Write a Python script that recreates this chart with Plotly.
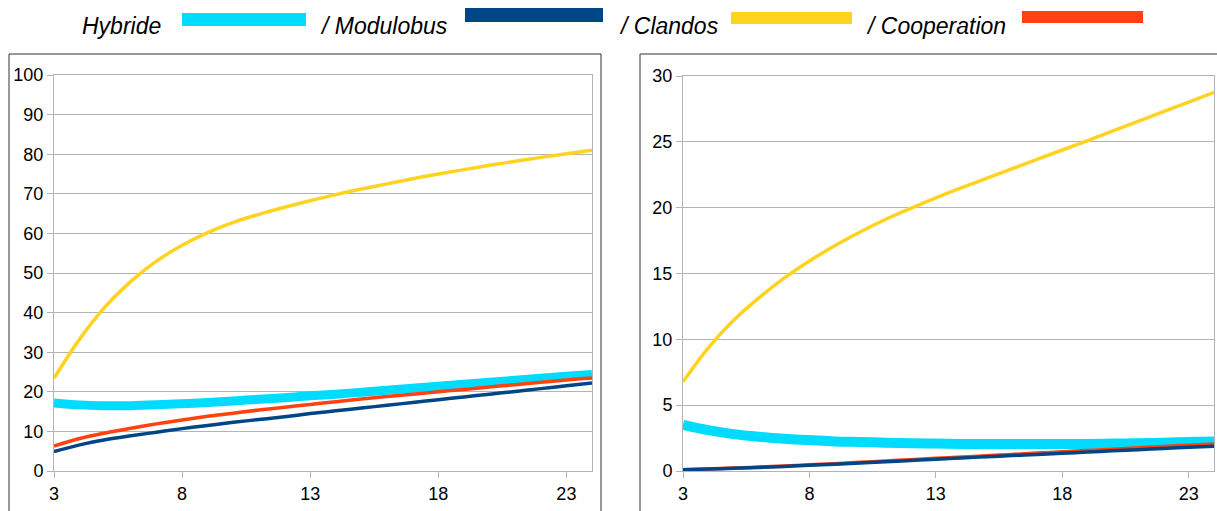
import plotly.graph_objects as go

W, H = 1217, 511

x = list(range(3, 25))

# Left panel
left_hybride = [17.2, 16.7, 16.5, 16.5, 16.7, 17.0, 17.3, 17.7, 18.1, 18.5, 19.0, 19.4, 19.9, 20.4, 20.9, 21.4, 21.9, 22.4, 22.9, 23.4, 23.9, 24.4]
left_modulobus = [4.9, 6.6, 7.9, 8.9, 9.8, 10.7, 11.5, 12.3, 13.0, 13.7, 14.5, 15.2, 15.9, 16.6, 17.3, 18.0, 18.7, 19.4, 20.1, 20.8, 21.5, 22.2]
left_clandos = [23.4, 33.3, 41.5, 47.9, 53.0, 57.0, 60.2, 62.8, 64.8, 66.6, 68.25, 69.8, 71.2, 72.5, 73.8, 75.0, 76.1, 77.2, 78.2, 79.2, 80.1, 81.0]
left_cooperation = [6.3, 8.2, 9.6, 10.8, 11.9, 12.9, 13.8, 14.6, 15.4, 16.1, 16.8, 17.5, 18.2, 18.8, 19.4, 20.0, 20.6, 21.2, 21.8, 22.4, 23.0, 23.5]

# Right panel
right_hybride = [3.5, 3.1, 2.8, 2.6, 2.45, 2.35, 2.25, 2.2, 2.15, 2.1, 2.08, 2.06, 2.05, 2.05, 2.05, 2.05, 2.06, 2.08, 2.1, 2.15, 2.2, 2.25]
right_modulobus = [0.10, 0.15, 0.20, 0.27, 0.35, 0.43, 0.52, 0.61, 0.70, 0.80, 0.90, 0.99, 1.08, 1.17, 1.26, 1.35, 1.44, 1.53, 1.62, 1.71, 1.80, 1.88]
right_clandos = [6.77, 9.35, 11.45, 13.15, 14.65, 15.95, 17.1, 18.15, 19.1, 19.95, 20.75, 21.5, 22.22, 22.94, 23.66, 24.38, 25.1, 25.83, 26.56, 27.29, 28.02, 28.76]
right_cooperation = [0.10, 0.16, 0.22, 0.30, 0.38, 0.47, 0.56, 0.66, 0.76, 0.86, 0.96, 1.06, 1.16, 1.26, 1.36, 1.46, 1.56, 1.66, 1.76, 1.86, 1.96, 2.06]

xticks = [3, 8, 13, 18, 23]
series_names = ["Hybride", "/ Modulobus", "/ Clandos", "/ Cooperation"]
colors = {"hyb": "#00dbff", "mod": "#004586", "cla": "#ffd320", "coo": "#ff420e"}

FONT = "Liberation Sans, Arial, sans-serif"

fig = go.Figure()

def add_panel(xa, ya, hyb, mod, cla, coo, hybw):
    common = dict(x=x, mode="lines", xaxis=xa, yaxis=ya, showlegend=False, hoverinfo="skip")
    fig.add_trace(go.Scatter(y=hyb, line=dict(color=colors["hyb"], width=hybw, shape="spline", smoothing=1.0), **common))
    fig.add_trace(go.Scatter(y=coo, line=dict(color=colors["coo"], width=3.5, shape="spline", smoothing=1.0), **common))
    fig.add_trace(go.Scatter(y=mod, line=dict(color=colors["mod"], width=3.5, shape="spline", smoothing=1.0), **common))
    fig.add_trace(go.Scatter(y=cla, line=dict(color=colors["cla"], width=3.5, shape="spline", smoothing=1.0), **common))

add_panel("x", "y", left_hybride, left_modulobus, left_clandos, left_cooperation, 9)
add_panel("x2", "y2", right_hybride, right_modulobus, right_clandos, right_cooperation, 10)

def px(v):
    return v / W

def py(v):
    return 1 - v / H

axis_common = dict(
    gridcolor="#b3b3b3", gridwidth=1,
    showline=True, linecolor="#b3b3b3", linewidth=1, mirror=True,
    ticks="outside", ticklen=6, tickcolor="#b3b3b3",
    tickfont=dict(family=FONT, size=18, color="#000000"),
    zeroline=False, automargin=False, fixedrange=True,
)

fig.update_layout(
    width=W, height=H,
    margin=dict(l=0, r=0, t=0, b=0),
    paper_bgcolor="white", plot_bgcolor="white",
    xaxis=dict(domain=[px(54), px(592)], range=[3, 24], tickvals=xticks, anchor="y", showgrid=False, **axis_common),
    yaxis=dict(domain=[py(471), py(75)], range=[0, 100], dtick=10, anchor="x", showgrid=True, **axis_common),
    xaxis2=dict(domain=[px(683), px(1214)], range=[3, 24], tickvals=xticks, anchor="y2", showgrid=False, **axis_common),
    yaxis2=dict(domain=[py(471), py(76)], range=[0, 30], dtick=5, anchor="x2", showgrid=True, **axis_common),
)

shapes = [
    dict(type="rect", xref="paper", yref="paper", x0=px(9), x1=px(601), y0=-0.2, y1=py(54),
         line=dict(color="#333333", width=1), layer="below"),
    dict(type="rect", xref="paper", yref="paper", x0=px(640), x1=1.2, y0=-0.2, y1=py(54),
         line=dict(color="#333333", width=1), layer="below"),
]

# legend: text + swatch
legend_items = [
    (series_names[0], 80, colors["hyb"], 182, 306, 13, 26),
    (series_names[1], 318, colors["mod"], 465, 603, 8, 22),
    (series_names[2], 617, colors["cla"], 731, 852, 12, 24),
    (series_names[3], 864, colors["coo"], 1022, 1143, 11, 23),
]
annotations = []
for name, tx, col, sx0, sx1, sy0, sy1 in legend_items:
    annotations.append(dict(text="<i>" + name + "</i>", xref="paper", yref="paper",
                            x=px(tx), y=py(26), xanchor="left", yanchor="middle",
                            showarrow=False, font=dict(family=FONT, size=23, color="#000000")))
    shapes.append(dict(type="rect", xref="paper", yref="paper", x0=px(sx0), x1=px(sx1),
                       y0=py(sy1), y1=py(sy0), fillcolor=col, line=dict(width=0)))

fig.update_layout(shapes=shapes, annotations=annotations)

fig.write_html("out.html", config={"displayModeBar": False},
               post_script="document.body.style.margin='0';document.body.style.overflow='hidden';")
